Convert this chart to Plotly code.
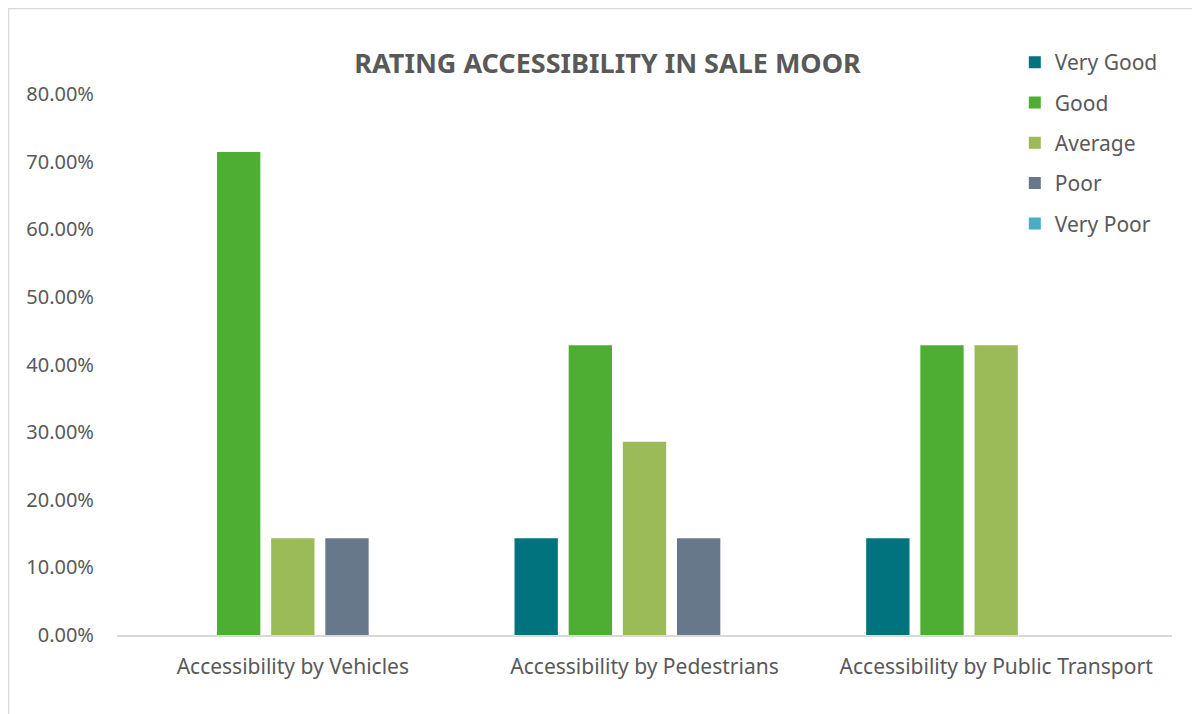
import plotly.graph_objects as go

# Datos
categorias = ["Accessibility by Vehicles", "Accessibility by Pedestrians",
              "Accessibility by Public Transport"]
very_good = [0.0, 0.1429, 0.1429]
good = [0.7143, 0.4286, 0.4286]
average = [0.1429, 0.2857, 0.4286]
poor = [0.1429, 0.1429, 0.0]
very_poor = [0.0, 0.0, 0.0]

series = [
    ("Very Good", very_good, "#00737F"),
    ("Good", good, "#4EAE33"),
    ("Average", average, "#9BBB59"),
    ("Poor", poor, "#67788A"),
    ("Very Poor", very_poor, "#4BACC6"),
]

TXT = "#595959"
FONT = "Noto Sans"

fig = go.Figure()
for i, (nombre, valores, color) in enumerate(series):
    fig.add_trace(go.Bar(
        name=nombre,
        x=categorias,
        y=valores,
        marker_color=color,
        marker_line_width=0,
        legendgroup=str(i),
    ))

# la pagina tiene 8px de margen en el body
fig.update_layout(
    width=1192,
    height=706,
    barmode="group",
    bargap=0.23,
    bargroupgap=0.2,
    paper_bgcolor="white",
    plot_bgcolor="white",
    margin=dict(l=109, r=28, t=86, b=79),
    font=dict(family=FONT, color=TXT, size=20),
    title=dict(
        text="<b>RATING ACCESSIBILITY IN SALE MOOR</b>",
        x=0.503, xanchor="center",
        y=1 - 56 / 706, yanchor="middle",
        font=dict(size=27, color=TXT, family=FONT),
    ),
    legend=dict(
        x=0.851, xanchor="left",
        y=1.096, yanchor="top",
        font=dict(size=21, color=TXT),
        tracegroupgap=10,
        itemwidth=30,
    ),
    xaxis=dict(
        showgrid=False,
        showline=True,
        linecolor="#D9D9D9",
        linewidth=1.5,
        ticks="",
        ticklabelstandoff=12,
        tickfont=dict(size=21, color=TXT),
    ),
    yaxis=dict(
        range=[0, 0.8],
        dtick=0.1,
        tickformat=".2%",
        showgrid=False,
        zeroline=False,
        showline=False,
        ticks="",
        ticklabelstandoff=22,
        tickfont=dict(size=20, color=TXT),
    ),
    shapes=[dict(
        type="rect", xref="paper", yref="paper",
        x0=-108.5 / 1055, x1=1080 / 1055,
        y0=-0.2, y1=626.5 / 541,
        line=dict(color="#D9D9D9", width=1.5),
        fillcolor="rgba(0,0,0,0)",
        layer="below",
    )],
)

fig.write_html("out.html")
